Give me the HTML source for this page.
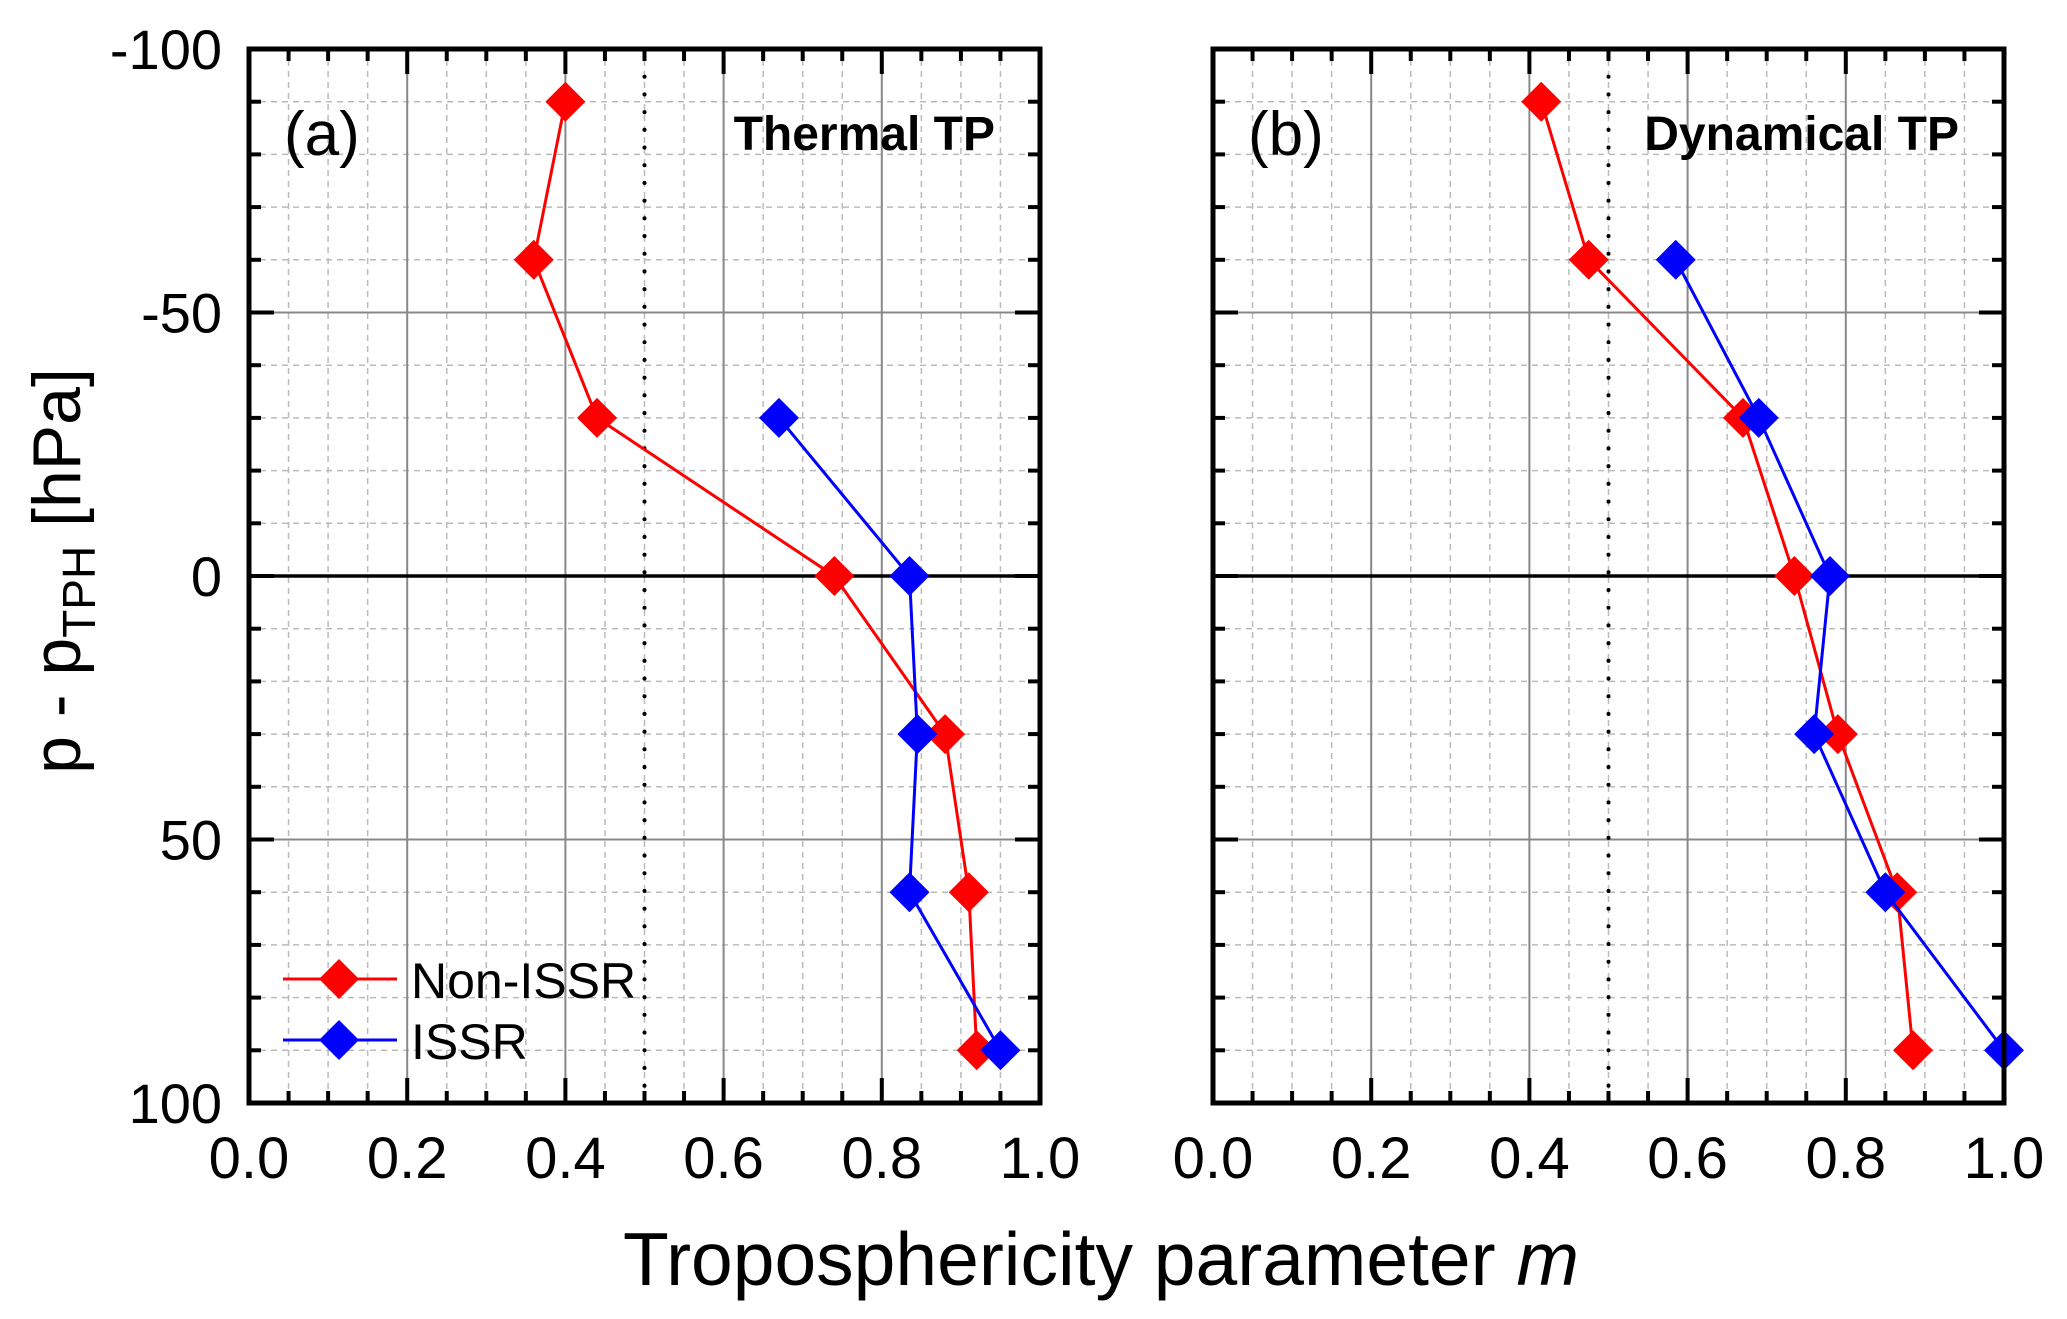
<!DOCTYPE html>
<html><head><meta charset="utf-8"><style>
html,body{margin:0;padding:0;background:#fff;}
svg{display:block;font-family:"Liberation Sans",Arial,sans-serif;}
</style></head><body>
<svg id="chart" width="2067" height="1319" viewBox="0 0 2067 1319" xmlns="http://www.w3.org/2000/svg"></svg>
<script>
const levels = [-90, -60, -30, 0, 30, 60, 90];
const thermalNonIssr = [0.40, 0.36, 0.44, 0.74, 0.88, 0.91, 0.92];
const thermalIssrLevels = [-30, 0, 30, 60, 90];
const thermalIssr = [0.67, 0.835, 0.845, 0.835, 0.95];
const dynNonIssr = [0.415, 0.475, 0.67, 0.735, 0.79, 0.865, 0.885];
const dynIssrLevels = [-60, -30, 0, 30, 60, 90];
const dynIssr = [0.585, 0.69, 0.78, 0.76, 0.85, 1.0];
const xTickLabels = ["0.0","0.2","0.4","0.6","0.8","1.0"];
const yTickLabels = ["-100","-50","0","50","100"];

const NS = "http://www.w3.org/2000/svg";
const svg = document.getElementById("chart");
function mk(tag, attrs, parent){
  const e = document.createElementNS(NS, tag);
  for (const k in attrs) e.setAttribute(k, attrs[k]);
  (parent||svg).appendChild(e);
  return e;
}
const plotTop = 49, plotBottom = 1103;
function yScale(v){ return plotTop + (v + 100) / 200 * (plotBottom - plotTop); }

function panel(left, right, name, label, title, nonX, nonY, issX, issY, showY){
  const g = mk("g", {});
  
  
  const xs = v => left + v * (right - left);
  for (let i = 1; i < 20; i++){
    if (i % 4 === 0) continue;
    const l = mk("line", {x1: xs(i*0.05), x2: xs(i*0.05), y1: plotTop, y2: plotBottom, stroke: "#bbb", "stroke-width": 1.5, "stroke-dasharray": "6,5"}, g);
    
    
  }
  for (let v = -90; v < 100; v += 10){
    if (v % 50 === 0) continue;
    const l = mk("line", {x1: left, x2: right, y1: yScale(v), y2: yScale(v), stroke: "#bbb", "stroke-width": 1.5, "stroke-dasharray": "6,5"}, g);
    
    
  }
  for (let i = 1; i < 5; i++){
    const l = mk("line", {x1: xs(i*0.2), x2: xs(i*0.2), y1: plotTop, y2: plotBottom, stroke: "#888", "stroke-width": 2}, g);
    
    
  }
  [-50, 50].forEach(v => {
    const l = mk("line", {x1: left, x2: right, y1: yScale(v), y2: yScale(v), stroke: "#888", "stroke-width": 2}, g);
    
    
  });
  const zl = mk("line", {x1: left, x2: right, y1: yScale(0), y2: yScale(0), stroke: "#000", "stroke-width": 3.5}, g);
  
  
  const dl = mk("line", {x1: xs(0.5), x2: xs(0.5), y1: plotTop+10, y2: plotBottom, stroke: "#000", "stroke-width": 4, "stroke-dasharray": "0.1,17.6", "stroke-linecap": "round"}, g);
  
  
  for (let i = 1; i < 20; i++){
    const len = i % 4 === 0 ? 25 : 12;
    const t1 = mk("line", {x1: xs(i*0.05), x2: xs(i*0.05), y1: plotBottom, y2: plotBottom-len, stroke: "#000", "stroke-width": 4}, g);
    
    
    const t2 = mk("line", {x1: xs(i*0.05), x2: xs(i*0.05), y1: plotTop, y2: plotTop+len, stroke: "#000", "stroke-width": 4}, g);
    
    
  }
  for (let v = -90; v < 100; v += 10){
    const len = v % 50 === 0 ? 25 : 12;
    const t1 = mk("line", {x1: left, x2: left+len, y1: yScale(v), y2: yScale(v), stroke: "#000", "stroke-width": 4}, g);
    
    
    const t2 = mk("line", {x1: right, x2: right-len, y1: yScale(v), y2: yScale(v), stroke: "#000", "stroke-width": 4}, g);
    
    
  }
  function series(xv, yv, color, sname){
    const pts = xv.map((v,i) => xs(v) + "," + yScale(yv[i])).join(" ");
    const pl = mk("polyline", {points: pts, fill: "none", stroke: color, "stroke-width": 3}, g);
    
    
    xv.forEach((v,i) => {
      const cx = xs(v), cy = yScale(yv[i]), r = 20;
      const p = mk("polygon", {points: `${cx},${cy-r} ${cx+r},${cy} ${cx},${cy+r} ${cx-r},${cy}`, fill: color}, g);
      
      
    });
  }
  series(nonX, nonY, "#ff0000", "non-issr");
  series(issX, issY, "#0000ff", "issr");
  const fr = mk("rect", {x: left, y: plotTop, width: right-left, height: plotBottom-plotTop, fill: "none", stroke: "#000", "stroke-width": 5}, g);
  
  
  xTickLabels.forEach((s,i) => {
    const t = mk("text", {x: xs(i*0.2), y: 1178, "font-size": 58, "text-anchor": "middle"}, g);
    t.textContent = s;
    
    
  });
  if (showY){
    yTickLabels.forEach((s,i) => {
      const t = mk("text", {x: 222, y: yScale(-100 + i*50) + 20, "font-size": 56, "text-anchor": "end"}, g);
      t.textContent = s;
      
      
    });
  }
  const pl = mk("text", {x: left + 35, y: 155, "font-size": 62}, g);
  pl.textContent = label;
  
  
  const tt = mk("text", {x: right - 45, y: 150, "font-size": 48, "font-weight": "bold", "text-anchor": "end"}, g);
  tt.textContent = title;
  
  
}
panel(249, 1040, "panel-thermal", "(a)", "Thermal TP", thermalNonIssr, levels, thermalIssr, thermalIssrLevels, true);
panel(1213, 2004, "panel-dynamical", "(b)", "Dynamical TP", dynNonIssr, levels, dynIssr, dynIssrLevels, false);

const lg = mk("g", {});


[["Non-ISSR","#ff0000",979],["ISSR","#0000ff",1040]].forEach(([n,c,y]) => {
  const e = mk("g", {}, lg);
  
  
  mk("line", {x1: 283, x2: 397, y1: y, y2: y, stroke: c, "stroke-width": 3}, e);
  mk("polygon", {points: `339,${y-20} 359,${y} 339,${y+20} 319,${y}`, fill: c}, e);
  const t = mk("text", {x: 411, y: y + 19, "font-size": 50}, e);
  t.textContent = n;
});

const xt = mk("text", {x: 1101, y: 1285, "font-size": 75, "text-anchor": "middle"});
xt.innerHTML = 'Troposphericity parameter <tspan font-style="italic">m</tspan>';


const yt = mk("text", {x: 0, y: 0, "font-size": 68, "text-anchor": "middle", transform: "translate(80,571) rotate(-90)", "xml:space": "preserve"});
yt.innerHTML = 'p - p<tspan font-size="46" dy="15">TPH</tspan><tspan dy="-15">   [hPa]</tspan>';


</script>
</body></html>
